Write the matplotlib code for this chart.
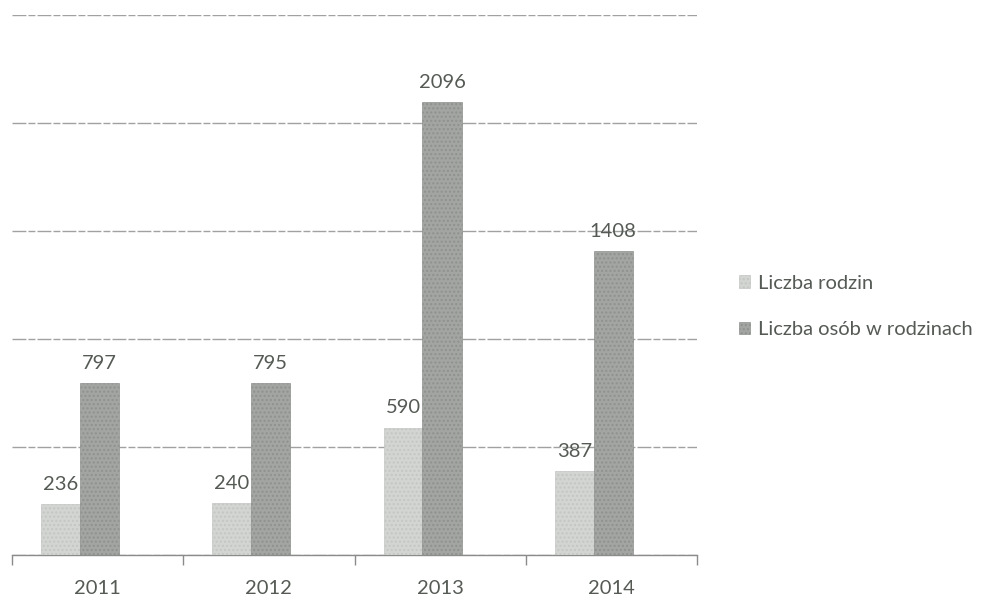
import matplotlib
matplotlib.use("Agg")
import matplotlib.pyplot as plt
import numpy as np

years = ["2011", "2012", "2013", "2014"]
rodziny = [236, 240, 590, 387]
osoby = [797, 795, 2096, 1408]
series_names = ["Liczba rodzin", "Liczba osób w rodzinach"]

plt.rcParams['font.family'] = ['Lato', 'DejaVu Sans']

fig = plt.figure(figsize=(9.96, 5.98), dpi=100)
ax = fig.add_axes([0.012, 0.072, 0.688, 0.903])

x = np.arange(len(years))
w = 0.23
light = '#d3d5d3'
dark = '#a2a5a2'
txt = '#555a55'

b1 = ax.bar(x - 0.215, rodziny, width=w, color=light, edgecolor='#c4c6c4', linewidth=0.5,
            hatch='....', zorder=3, label=series_names[0])
b2 = ax.bar(x + 0.01, osoby, width=w, color=dark, edgecolor='#8e918e', linewidth=0.5,
            hatch='....', zorder=3, label=series_names[1])

for bars, vals in ((b1, rodziny), (b2, osoby)):
    for r, v in zip(bars, vals):
        ax.annotate(str(v), (r.get_x() + r.get_width() / 2, v), xytext=(0, 8),
                    textcoords='offset points', ha='center', va='bottom',
                    fontsize=14.5, color=txt, zorder=4)

ax.set_ylim(0, 2500)
ax.set_xlim(-0.5, 3.5)
ax.set_yticks([0, 500, 1000, 1500, 2000, 2500])
ax.yaxis.grid(True, color='#a0a2a0', linewidth=1.0, linestyle=(0, (10, 1.5, 5, 1.5)), zorder=0)
ax.tick_params(axis='y', left=False, labelleft=False)
ax.set_xticks(x)
ax.set_xticklabels(years, fontsize=14.5, color=txt)
ax.tick_params(axis='x', which='major', length=0, pad=18)
ax.set_xticks(np.arange(-0.5, 4.0, 1.0), minor=True)
ax.tick_params(axis='x', which='minor', length=7, color='#8a8c8a', width=1)
for s in ['top', 'right', 'left']:
    ax.spines[s].set_visible(False)
ax.spines['bottom'].set_color('#8a8c8a')
ax.spines['bottom'].set_linewidth(1.0)

leg = fig.legend(handles=[b1, b2], labels=series_names, loc='upper left',
                 bbox_to_anchor=(0.724, 0.571), frameon=False, fontsize=14.5,
                 handlelength=0.55, handleheight=0.55, handletextpad=0.4,
                 labelspacing=1.45, labelcolor=txt)

fig.savefig("out.png", dpi=100)
